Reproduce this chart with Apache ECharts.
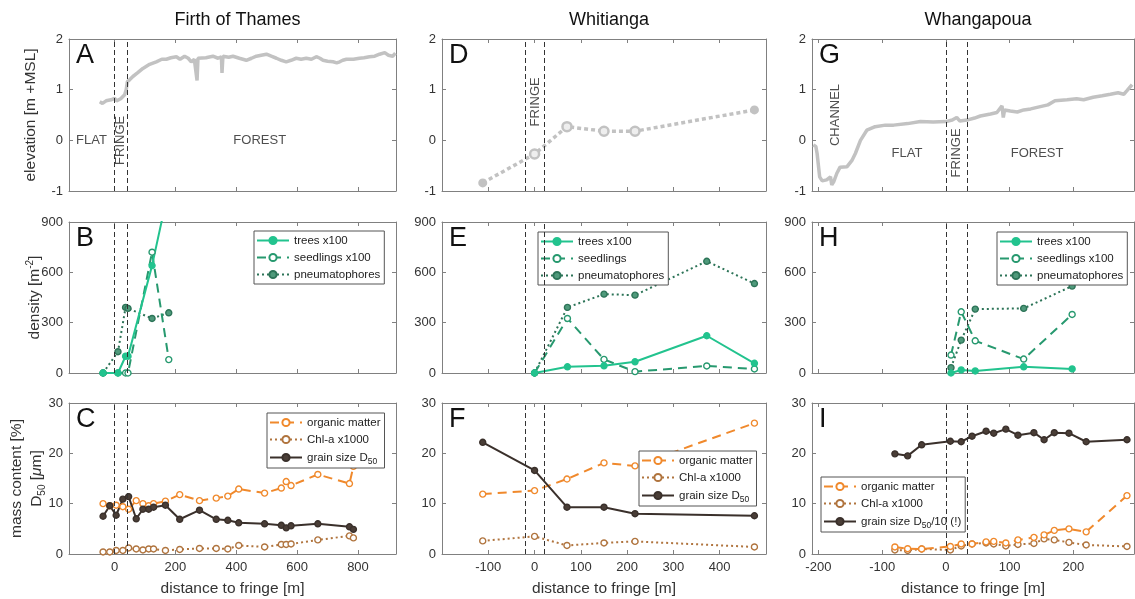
<!DOCTYPE html>
<html><head><meta charset="utf-8">
<script src="https://cdn.jsdelivr.net/npm/echarts@6/dist/echarts.min.js"></script>
<style>html,body{margin:0;padding:0;background:#fff}#c{width:1135px;height:599px}</style>
</head><body><div id="c"></div>
<script>
// ---------------- DATA ----------------
const siteTitles = ['Firth of Thames', 'Whitianga', 'Whangapoua'];
const panelLetters = [['A','B','C'], ['D','E','F'], ['G','H','I']];
const fringeLines = [[0, 40], [-20, 20], [0, 33]];
const xTickValues = [[0,200,400,600,800], [-100,0,100,200,300,400], [-200,-100,0,100,200]];

// elevation
const elevA_x = [-49,-40,-28,-12,0,6,11,20,33,38,42,50,60,75,93,115,137,155,170,185,203,215,230,242,252,262,268,271,274,279,300,323,340,351,353,356,362,375,389,410,433,450,466,482,499,515,532,548,564,580,597,613,630,647,663,675,685,700,718,730,740,750,762,785,805,820,838,855,871,888,900,914,923];
const elevA_y = [0.76,0.73,0.78,0.8,0.83,0.78,0.76,0.82,0.9,1.0,1.16,1.2,1.26,1.33,1.42,1.5,1.55,1.6,1.6,1.63,1.65,1.6,1.66,1.62,1.55,1.6,1.62,1.18,1.62,1.65,1.63,1.66,1.62,1.65,1.33,1.66,1.68,1.64,1.66,1.62,1.58,1.62,1.66,1.68,1.7,1.66,1.62,1.58,1.55,1.58,1.62,1.6,1.62,1.6,1.65,1.62,1.58,1.56,1.55,1.53,1.55,1.58,1.6,1.6,1.62,1.63,1.65,1.66,1.7,1.73,1.68,1.66,1.72];
const elevD_x = [-112,0,70,150,217,475];
const elevD_y = [-0.84,-0.27,0.27,0.18,0.18,0.6];
const elevG_x = [-208,-204,-202,-198,-194,-187,-181,-179,-176,-171,-166,-155,-147,-142,-134,-124,-111,-95,-82,-60,-40,-20,0,10,17,22,33,45,54,70,80,88,90,92,101,112,122,133,143,160,171,190,205,216,231,245,258,270,279,284,292];
const elevG_y = [-0.09,-0.12,-0.26,-0.72,-0.8,-0.78,-0.72,-0.88,-0.82,-0.65,-0.53,-0.52,-0.39,-0.26,0.0,0.2,0.27,0.3,0.3,0.33,0.37,0.36,0.37,0.4,0.45,0.38,0.4,0.44,0.48,0.52,0.55,0.68,0.45,0.6,0.58,0.56,0.6,0.62,0.65,0.7,0.78,0.8,0.82,0.8,0.85,0.88,0.91,0.94,0.91,0.98,1.1];

// density
const densB_x = [-38,11,36,44,123,178];
const treesB = [0,0,100,100,640,1100];
const seedB = [0,0,0,0,720,80];
const pneuB = [0,127,391,385,325,359];
const densE_x = [0,71,150,217,372,475];
const treesE = [0,37,43,67,222,58];
const seedE = [0,325,81,8,42,24];
const pneuE = [0,391,470,464,666,533];
const densH_x = [8,24,46,122,198];
const treesH = [0,18,12,37,24];
const seedH = [107,365,192,83,349];
const pneuH = [32,196,381,385,518];

// sediment
const sedC_x = [-38,-16,5,27,46,71,93,112,128,167,214,279,334,372,408,493,548,564,580,668,772,785];
const omC = [10.0,9.6,9.7,9.4,8.9,10.6,10.0,9.6,10.0,10.5,11.8,10.6,11.1,11.5,12.9,12.1,13.1,14.4,13.6,15.8,14.0,17.4];
const chlC = [0.4,0.4,0.7,0.7,1.2,1.0,0.8,1.0,1.0,0.7,0.9,1.1,1.1,1.0,1.7,1.4,1.9,1.9,2.0,2.8,3.6,3.2];
const gsC = [7.5,9.6,7.7,10.9,11.4,7.0,8.9,8.9,9.3,9.7,6.9,8.7,6.9,6.7,6.2,6.0,5.7,5.2,5.6,6.0,5.4,4.9];
const sedF_x = [-112,0,70,150,217,475];
const omF = [11.9,12.6,14.9,18.1,17.5,26.0];
const chlF = [2.6,3.5,1.7,2.2,2.5,1.4];
const gsF = [22.2,16.6,9.3,9.3,8.0,7.6];
const sedI_x = [-80,-60,-38,7,24,41,63,75,94,113,138,154,170,193,220,284];
const omI = [1.4,1.05,1.0,1.5,2.0,2.0,2.4,2.5,2.2,2.8,3.3,3.8,4.7,5.0,4.4,11.6];
const chlI = [0.8,0.7,1.0,0.8,1.6,2.0,2.2,2.0,1.6,1.9,2.1,3.0,2.8,2.3,1.8,1.5];
const gsI = [19.9,19.5,21.7,22.4,22.3,23.4,24.4,24.0,24.8,23.6,24.1,22.7,24.1,24.0,22.3,22.7];

// zone annotations
const annotText = ['FLAT','FRINGE','FOREST','FRINGE','CHANNEL','FLAT','FRINGE','FOREST'];
const annotCol  = [0,0,0,1,2,2,2,2];
const annotX    = [-76,20,477,2,-174,-61,17,143];
const annotY    = [0,0,0,0.76,0.5,-0.25,-0.25,-0.25];
const annotRot  = [0,90,0,90,90,0,90,0];

// ---------------- LAYOUT / STYLE ----------------
const FONT = '"Liberation Sans", Arial, Helvetica, sans-serif';
const AX = '#808080', TXT = '#333';
const colL = [69, 442, 812], colW = [327, 324, 322];
const rowT = [39, 222, 403], rowH = [152, 151, 151];
const xRange = [[-150, 925], [-200, 500], [-210, 295]];
const yRange = [[-1, 2, 1], [0, 900, 300], [0, 30, 10]];

const ST = {
  trees: {c:'#22c38e', t:'solid', w:2, sym:'circle', fill:'#22c38e'},
  seed:  {c:'#27996f', t:[9,6], w:2, sym:'circle', fill:'#ffffff'},
  pneu:  {c:'#2d7458', t:[2,3], w:2, sym:'circle', fill:'#4f9a7b'},
  om:    {c:'#f0892c', t:[9,6], w:2, sym:'circle', fill:'#ffffff'},
  chl:   {c:'#b0743e', t:[2,3], w:2, sym:'circle', fill:'#ffffff'},
  gs:    {c:'#3a302b', t:'solid', w:2, sym:'circle', fill:'#4a3e37'}
};

const grids = [], xAxes = [], yAxes = [], series = [], titles = [], legends = [];
function gIdx(col,row){ return col*3+row; }

for (let col=0; col<3; col++) {
  titles.push({text: siteTitles[col], left: colL[col]+colW[col]/2, top: 6, textAlign:'center',
    textStyle:{fontSize:18, fontWeight:'normal', color:'#111', fontFamily:FONT}});
  for (let row=0; row<3; row++) {
    const gi = gIdx(col,row);
    grids.push({left: colL[col], top: rowT[row], width: colW[col], height: rowH[row], containLabel:false});
    titles.push({text: panelLetters[col][row], left: colL[col]+7, top: rowT[row]+3, padding:0,
      textStyle:{fontSize:27, fontWeight:'normal', color:'#111', fontFamily:FONT}});
    const line = {show:true, onZero:false, lineStyle:{color:AX, width:1}};
    const xt = {show:true, inside:true, length:4, customValues:xTickValues[col], lineStyle:{color:AX}};
    xAxes.push({gridIndex:gi, type:'value', min:xRange[col][0], max:xRange[col][1], position:'bottom',
      axisLine:line, axisTick:xt,
      axisLabel:{show: row===2, customValues:xTickValues[col], color:TXT, fontSize:13, fontFamily:FONT, margin:7},
      splitLine:{show:false},
      name: row===2 ? 'distance to fringe [m]' : '', nameLocation:'middle', nameGap:27, nameMoveOverlap:false,
      nameTextStyle:{fontSize:15.5, color:TXT, fontFamily:FONT}});
    xAxes.push({gridIndex:gi, type:'value', min:xRange[col][0], max:xRange[col][1], position:'top',
      axisLine:line, axisTick:xt, axisLabel:{show:false}, splitLine:{show:false}});
    const [ymn,ymx,yiv] = yRange[row];
    let yName = '', yGap = 31;
    if (col===0) {
      if (row===0) { yName = 'elevation [m +MSL]'; yGap = 29; }
      if (row===1) { yName = 'density [m{sup|-2}]'; yGap = 25; }
      if (row===2) { yName = 'mass content [%]\nD{sub|50} [{it|μ}m]'; yGap = 22; }
    }
    yAxes.push({gridIndex:gi, type:'value', min:ymn, max:ymx, interval:yiv, position:'left',
      axisLine:line, axisTick:{show:true, inside:true, length:4, lineStyle:{color:AX}},
      axisLabel:{color:TXT, fontSize:13, fontFamily:FONT, margin:6},
      splitLine:{show:false},
      name: yName, nameLocation:'middle', nameGap:yGap, nameRotate:90, nameMoveOverlap:false,
      nameTextStyle:{fontSize:15.5, color:TXT, fontFamily:FONT, lineHeight:19,
        rich:{sup:{fontSize:10, verticalAlign:'top', lineHeight:19, color:TXT, fontFamily:FONT},
              sub:{fontSize:10, verticalAlign:'bottom', lineHeight:21, color:TXT, fontFamily:FONT},
              it:{fontSize:15.5, fontStyle:'italic', color:TXT, fontFamily:FONT}}}});
    yAxes.push({gridIndex:gi, type:'value', min:ymn, max:ymx, interval:yiv, position:'right',
      axisLine:line, axisTick:{show:true, inside:true, length:4, lineStyle:{color:AX}},
      axisLabel:{show:false}, splitLine:{show:false}});
  }
}

function fringeMark(col){
  return {silent:true, symbol:['none','none'], label:{show:false},
    lineStyle:{color:'#333', width:1, type:[5,3]},
    data: fringeLines[col].map(v => ({xAxis:v}))};
}

function pair(xs, ys){ return xs.map((x,i)=>[x, ys[i]]); }

function dataSeries(gi, name, xs, ys, st, extra){
  return Object.assign({
    type:'line', name, xAxisIndex:gi*2, yAxisIndex:gi*2, data: pair(xs, ys),
    symbol: st.sym, symbolSize:6, showSymbol:true,
    lineStyle:{color:st.c, width:st.w, type:st.t},
    itemStyle:{color:st.fill, borderColor:st.c, borderWidth:1.4},
    z:3, clip:true
  }, extra||{});
}

// elevation series
series.push({type:'line', name:'elevA', xAxisIndex:0, yAxisIndex:0, data:pair(elevA_x, elevA_y),
  showSymbol:false, lineStyle:{color:'#c2c2c2', width:3.5}, markLine: fringeMark(0)});
series.push({type:'line', name:'elevD', xAxisIndex:6, yAxisIndex:6,
  data: pair(elevD_x, elevD_y).map((p,i,a) => ({value:p, itemStyle:(i===0||i===a.length-1)?{color:'#c2c2c2'}:{color:'#eeeeee', borderColor:'#c2c2c2', borderWidth:2.5}})),
  symbol:'circle', symbolSize:9, lineStyle:{color:'#c2c2c2', width:3.5, type:[4,3]},
  itemStyle:{color:'#c2c2c2'}, markLine: fringeMark(1)});
series.push({type:'line', name:'elevG', xAxisIndex:12, yAxisIndex:12, data:pair(elevG_x, elevG_y),
  showSymbol:false, lineStyle:{color:'#c2c2c2', width:3.5}, markLine: fringeMark(2)});

// density
const dens = [
  [1, densB_x, treesB, seedB, pneuB, 'seedlings x100', 0],
  [4, densE_x, treesE, seedE, pneuE, 'seedlings', 1],
  [7, densH_x, treesH, seedH, pneuH, 'seedlings x100', 2]
];
dens.forEach(([gi, xs, tr, se, pn, sName, col]) => {
  series.push(dataSeries(gi, 'pneumatophores', xs, pn, ST.pneu, {markLine: fringeMark(col)}));
  series.push(dataSeries(gi, sName, xs, se, ST.seed));
  series.push(dataSeries(gi, 'trees x100', xs, tr, ST.trees));
});

// sediment
const sed = [
  [2, sedC_x, omC, chlC, gsC, 'grain size D50', 0],
  [5, sedF_x, omF, chlF, gsF, 'grain size D50', 1],
  [8, sedI_x, omI, chlI, gsI, 'grain size D50/10 (!)', 2]
];
sed.forEach(([gi, xs, om, chl, gs, gName, col]) => {
  series.push(dataSeries(gi, 'Chl-a x1000', xs, chl, ST.chl, {markLine: fringeMark(col)}));
  series.push(dataSeries(gi, 'organic matter', xs, om, ST.om));
  series.push(dataSeries(gi, gName, xs, gs, ST.gs));
});

// annotations
for (let col=0; col<3; col++) {
  const items = [];
  annotText.forEach((t,i) => {
    if (annotCol[i] !== col) return;
    items.push({value:[annotX[i], annotY[i], t], label:{rotate: annotRot[i]}});
  });
  series.push({type:'scatter', name:'annot'+col, xAxisIndex:col*6, yAxisIndex:col*6, symbolSize:0,
    silent:true, data: items,
    label:{show:true, position:'inside', formatter: p => p.value[2], fontSize:13, color:'#222', fontFamily:FONT}});
}

// legends
const legRich = {sub:{fontSize:8.5, verticalAlign:'bottom', lineHeight:17, fontFamily:FONT, color:'#222'}};
function legend(names, left, top){
  return {left, top, orient:'vertical', data:names, selectedMode:false,
    borderColor:'#555', borderWidth:1, backgroundColor:'#fff', borderRadius:0,
    padding:[2,4,2,2], itemGap:2, itemWidth:32, itemHeight:9,
    formatter: n => n.replace('D50', 'D{sub|50}'),
    textStyle:{fontSize:11.5, color:'#222', fontFamily:FONT, lineHeight:15, rich:legRich}};
}
legends.push(legend(['trees x100','seedlings x100','pneumatophores'], 254, 231));
legends.push(legend(['trees x100','seedlings','pneumatophores'], 538, 232));
legends.push(legend(['trees x100','seedlings x100','pneumatophores'], 997, 232));
legends.push(legend(['organic matter','Chl-a x1000','grain size D50'], 267, 413));
legends.push(legend(['organic matter','Chl-a x1000','grain size D50'], 639, 451));
legends.push(legend(['organic matter','Chl-a x1000','grain size D50/10 (!)'], 821, 477));

const chart = echarts.init(document.getElementById('c'), null, {renderer:'canvas'});
chart.setOption({
  animation:false, backgroundColor:'#fff',
  textStyle:{fontFamily:FONT},
  title: titles, grid: grids, xAxis: xAxes, yAxis: yAxes, legend: legends, series
});
</script></body></html>
